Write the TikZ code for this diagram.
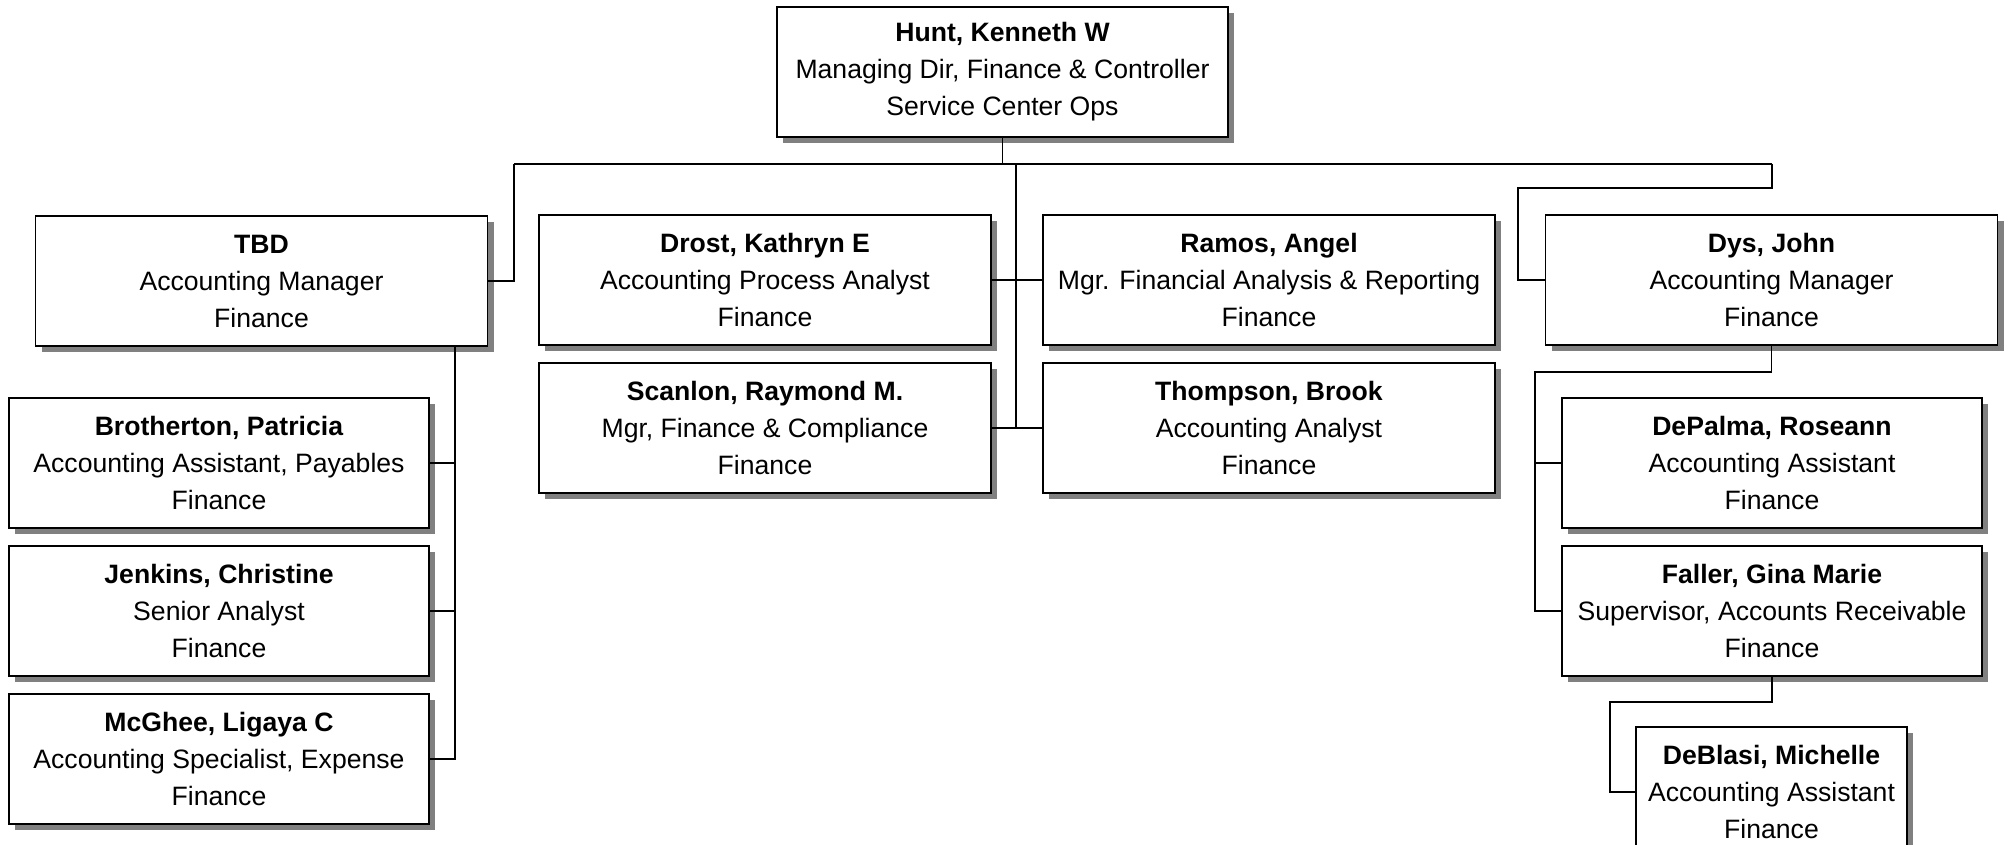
\documentclass[tikz,border=0pt]{standalone}
\usepackage{fontspec}
\setmainfont{Liberation Sans}
\usetikzlibrary{shadows}
\tikzset{
    staff/.style={
    draw=black, line width=0.85pt, fill=white,
    minimum width=226pt, minimum height=65pt,
    align=center, inner sep=2pt,
    font=\fontsize{13.3}{18.5}\selectfont,
    drop shadow={shadow xshift=3pt,shadow yshift=-3pt,fill=black!50,opacity=1}
    },
    narrow/.style={minimum width=210pt},
    link/.style={line width=0.75pt}
}

\begin{document}
\begin{tikzpicture}[x=0.5pt,y=-0.5pt]
\useasboundingbox (0,0) rectangle (2009,845);
\fill[white] (0,0) rectangle (2009,845);
% top
\node[staff,minimum width=225.5pt] (hunt) at (1002.5,72) {\textbf{Hunt, Kenneth W}\\Managing Dir, Finance \& Controller\\Service Center Ops};
% second level
\node[staff] (tbd) at (261.5,281) {\textbf{TBD}\\Accounting Manager\\Finance};
\node[staff] (drost) at (765,280) {\textbf{Drost, Kathryn E}\\Accounting Process Analyst\\Finance};
\node[staff] (ramos) at (1269,280) {\textbf{Ramos, Angel}\\Mgr. Financial Analysis \& Reporting\\Finance};
\node[staff] (scanlon) at (765,428) {\textbf{Scanlon, Raymond M.}\\Mgr, Finance \& Compliance\\Finance};
\node[staff] (thompson) at (1269,428) {\textbf{Thompson, Brook}\\Accounting Analyst\\Finance};
\node[staff] (dys) at (1771.5,280) {\textbf{Dys, John}\\Accounting Manager\\Finance};
% under TBD
\node[staff,narrow] (brotherton) at (219,463) {\textbf{Brotherton, Patricia}\\Accounting Assistant, Payables\\Finance};
\node[staff,narrow] (jenkins) at (219,611) {\textbf{Jenkins, Christine}\\Senior Analyst\\Finance};
\node[staff,narrow] (mcghee) at (219,759) {\textbf{McGhee, Ligaya C}\\Accounting Specialist, Expense\\Finance};
% under Dys
\node[staff,narrow] (depalma) at (1772,463) {\textbf{DePalma, Roseann}\\Accounting Assistant\\Finance};
\node[staff,narrow] (faller) at (1772,611) {\textbf{Faller, Gina Marie}\\Supervisor, Accounts Receivable\\Finance};
\node[staff,minimum width=135.5pt] (deblasi) at (1771.5,792) {\textbf{DeBlasi, Michelle}\\Accounting Assistant\\Finance};
% connectors
\coordinate (busL) at (514,164);
\coordinate (busR) at (1772,164);
\coordinate (trunk) at (1016,164);
\coordinate (dysbend) at (1518,188);
\coordinate (tbdleg) at (455,346);
\coordinate (dysleg) at (1535,372);
\coordinate (fallerleg) at (1610,702);
\draw[link] (hunt.south) -- (hunt.south |- busL);
\draw[link] (busL) -- (busR);
\draw[link] (tbd.east) -| (busL);
\draw[link] (busR) |- (dysbend) |- (dys.west);
\draw[link] (trunk) -- (trunk |- scanlon.east);
\draw[link] (drost.east) -- (ramos.west);
\draw[link] (scanlon.east) -- (thompson.west);
\draw[link] (tbdleg) |- (mcghee.east);
\draw[link] (brotherton.east) -- (brotherton.east -| tbdleg);
\draw[link] (jenkins.east) -- (jenkins.east -| tbdleg);
\draw[link] (dys.south) |- (dysleg) |- (faller.west);
\draw[link] (depalma.west) -- (depalma.west -| dysleg);
\draw[link] (faller.south) |- (fallerleg) |- (deblasi.west);
\end{tikzpicture}
\end{document}
